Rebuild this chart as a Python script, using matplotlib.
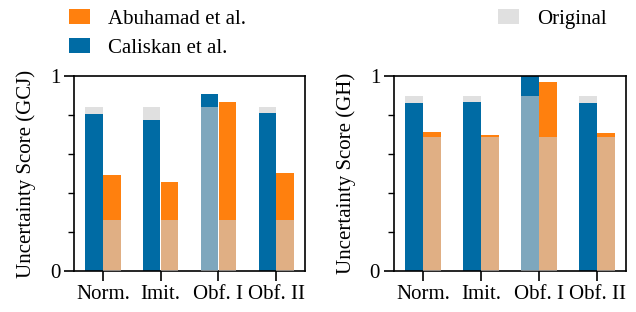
import numpy as np
import matplotlib
matplotlib.use("Agg")
import matplotlib.pyplot as plt
from matplotlib.ticker import MultipleLocator

plt.rcParams['font.family'] = ['Liberation Serif', 'DejaVu Serif']

categories = ['Norm.', 'Imit.', 'Obf. I', 'Obf. II']

# GCJ
gcj_caliskan = [0.805, 0.774, 0.908, 0.810]
gcj_caliskan_orig = [0.841, 0.841, 0.841, 0.841]
gcj_abuhamad = [0.492, 0.456, 0.867, 0.503]
gcj_abuhamad_orig = [0.262, 0.262, 0.262, 0.262]

# GH
gh_caliskan = [0.862, 0.867, 1.0, 0.862]
gh_caliskan_orig = [0.897, 0.897, 0.897, 0.897]
gh_abuhamad = [0.713, 0.697, 0.969, 0.708]
gh_abuhamad_orig = [0.687, 0.687, 0.687, 0.687]

blue = '#006ba4'
orange = '#ff800e'
grey = '#cdcdcd'
light_grey = '#e0e0e0'
fs = 15

fig = plt.figure(figsize=(6.36, 3.12), dpi=100)
ax1 = fig.add_axes([0.1164, 0.1314, 0.3632, 0.625])
ax2 = fig.add_axes([0.6195, 0.1314, 0.3648, 0.625])

x = np.arange(len(categories))
w = 0.3
off = 0.155


def draw(ax, cal, cal_o, abu, abu_o, label):
    cal, cal_o = np.array(cal), np.array(cal_o)
    abu, abu_o = np.array(abu), np.array(abu_o)
    # original score behind the model score; where the model is higher
    # the original part is shaded over it
    ax.bar(x - off, cal_o, w, color=light_grey, label='Original', zorder=1)
    ax.bar(x + off, abu_o, w, color=light_grey, zorder=1)
    ax.bar(x - off, cal, w, color=blue, label='Caliskan et al.', zorder=2)
    ax.bar(x + off, abu, w, color=orange, label='Abuhamad et al.', zorder=2)
    ax.bar(x - off, np.where(cal > cal_o, cal_o, 0), w, color=grey,
           alpha=0.62, zorder=3)
    ax.bar(x + off, np.where(abu > abu_o, abu_o, 0), w, color=grey,
           alpha=0.62, zorder=3)
    ax.set_xlim(-0.5, 3.5)
    ax.set_ylim(0, 1)
    ax.set_xticks(x)
    ax.set_xticklabels(categories)
    ax.set_yticks([0, 1])
    ax.set_yticklabels(['0', '1'])
    ax.yaxis.set_minor_locator(MultipleLocator(0.2))
    ax.tick_params(axis='both', which='major', length=7, width=1.2,
                   labelsize=fs, direction='out', pad=3)
    ax.tick_params(axis='y', which='minor', length=4.5, width=1.0)
    for s in ax.spines.values():
        s.set_linewidth(1.2)
    ax.set_ylabel(label, fontsize=fs, labelpad=10)


draw(ax1, gcj_caliskan, gcj_caliskan_orig, gcj_abuhamad, gcj_abuhamad_orig,
     'Uncertainty Score (GCJ)')
draw(ax2, gh_caliskan, gh_caliskan_orig, gh_abuhamad, gh_abuhamad_orig,
     'Uncertainty Score (GH)')

h, l = ax1.get_legend_handles_labels()
fig.legend([h[2], h[1]], [l[2], l[1]], loc='upper left',
           bbox_to_anchor=(0.0797, 1.03), frameon=False, fontsize=fs,
           handlelength=1.0, handleheight=0.7, handletextpad=0.85,
           labelspacing=0.45)
fig.legend([h[0]], [l[0]], loc='upper left', bbox_to_anchor=(0.754, 1.03),
           frameon=False, fontsize=fs, handlelength=1.0, handleheight=0.7,
           handletextpad=0.85)

fig.savefig('out.png', dpi=100)
